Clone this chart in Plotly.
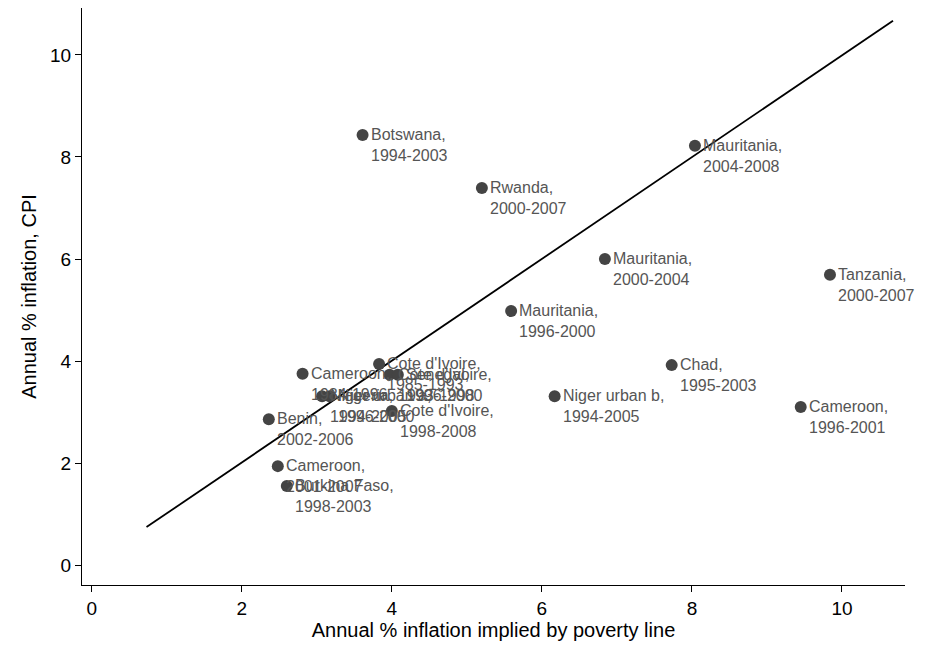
import plotly.graph_objects as go

# puntos: inflacion implicita por linea de pobreza vs IPC
x_pl = [3.61, 8.04, 5.20, 6.84, 9.84, 5.59, 7.73, 3.83, 2.81, 3.97, 4.08, 3.07, 3.17,
        6.17, 4.00, 2.36, 9.45, 2.48, 2.60]
y_cpi = [8.43, 8.22, 7.39, 6.00, 5.69, 4.98, 3.92, 3.94, 3.75, 3.73, 3.73, 3.31, 3.31,
         3.31, 3.02, 2.86, 3.10, 1.94, 1.55]
etiquetas = ["Botswana,<br>1994-2003", "Mauritania,<br>2004-2008", "Rwanda,<br>2000-2007",
             "Mauritania,<br>2000-2004", "Tanzania,<br>2000-2007", "Mauritania,<br>1996-2000",
             "Chad,<br>1995-2003", "Cote d'Ivoire,<br>1985-1993", "Cameroon,<br>1984-1996",
             "Cote d'Ivoire,<br>1993-1998", "Senegal,<br>1996-2000", "Niger urban a,<br>1994-2005",
             "Nigeria,<br>1996-2000", "Niger urban b,<br>1994-2005", "Cote d'Ivoire,<br>1998-2008",
             "Benin,<br>2002-2006", "Cameroon,<br>1996-2001", "Cameroon,<br>2001-2007",
             "Burkina Faso,<br>1998-2003"]

# recta de 45 grados
linea_x = [0.73, 10.68]
linea_y = [0.745, 10.67]

fig = go.Figure()
fig.add_trace(go.Scatter(x=linea_x, y=linea_y, mode="lines",
                         line=dict(color="black", width=1.8), showlegend=False))
fig.add_trace(go.Scatter(x=x_pl, y=y_cpi, mode="markers",
                         marker=dict(color="#444444", size=12), showlegend=False))

for xi, yi, t in zip(x_pl, y_cpi, etiquetas):
    fig.add_annotation(x=xi, y=yi, text=t, showarrow=False, xanchor="left", yanchor="top",
                       align="left", xshift=6, yshift=11,
                       font=dict(family="Liberation Sans, Arial", size=16, color="#555555"))

eje = dict(showgrid=False, zeroline=False, showline=True, linecolor="black", linewidth=1,
           ticks="outside", ticklen=6, tickcolor="black", automargin=False,
           tickfont=dict(size=19, color="black"), title_font=dict(size=20, color="black"))

fig.update_layout(
    width=929, height=638, plot_bgcolor="white", paper_bgcolor="white",
    font=dict(family="Liberation Sans, Arial"),
    margin=dict(l=74, r=32, t=0, b=61),
    xaxis=dict(eje, range=[-0.13, 10.84], tickvals=[0, 2, 4, 6, 8, 10],
               title=dict(text="Annual % inflation implied by poverty line", standoff=4)),
    yaxis=dict(eje, range=[-0.39, 10.92], tickvals=[0, 2, 4, 6, 8, 10],
               title=dict(text="Annual % inflation, CPI", standoff=8)),
)

fig.write_html("out.html")
